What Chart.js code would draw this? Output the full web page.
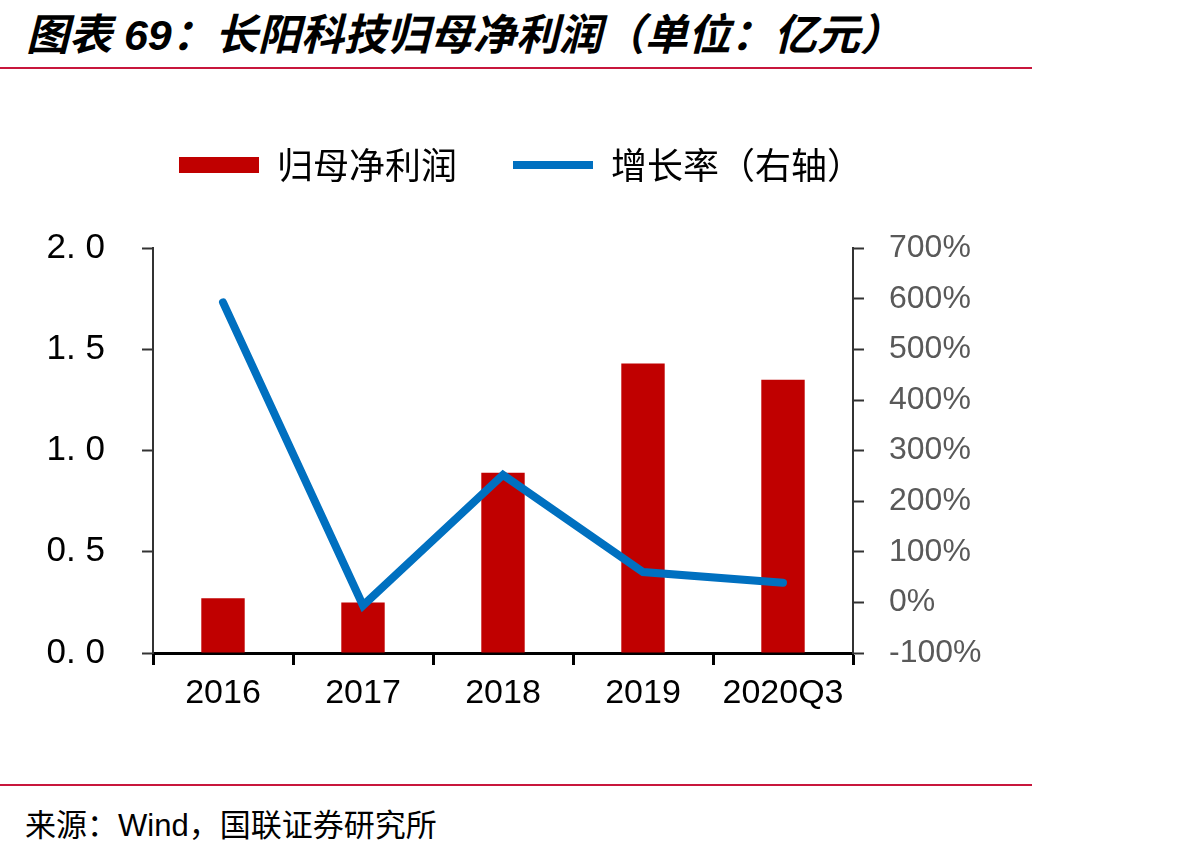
<!DOCTYPE html>
<html lang="zh-CN">
<head>
<meta charset="utf-8">
<title>长阳科技归母净利润</title>
<script src="https://cdn.jsdelivr.net/npm/chart.js@4.4.1/dist/chart.umd.min.js"></script>
<style>
  html, body { margin: 0; padding: 0; background: #fff; }
  body { width: 1186px; height: 850px; position: relative; overflow: hidden; }
  .title {
    position: absolute; left: 26px; top: 0px;
    font-family: "Liberation Sans", "Noto Sans CJK SC", sans-serif;
    font-size: 43px; font-weight: bold; font-style: italic; color: #000;
    white-space: nowrap;
  }
  .rule { position: absolute; left: 0; width: 1032px; height: 2px; background: #C8163C; }
  .source {
    position: absolute; left: 25px; top: 800px;
    font-family: "Liberation Sans", "Noto Sans CJK SC", sans-serif;
    font-size: 31px; color: #000; white-space: nowrap;
  }
  .chart-box { position: absolute; left: 0; top: 80px; width: 1042px; height: 653px; }
</style>
</head>
<body>

<div class="title">图表 69：长阳科技归母净利润（单位：亿元）</div>
<div class="rule" style="top:67px"></div>

<div class="chart-box"><canvas id="chart"></canvas></div>

<div class="rule" style="top:784px"></div>
<div class="source">来源：Wind，国联证券研究所</div>

<script>
// ===================================
// DADOS
// ===================================
const categories = ['2016', '2017', '2018', '2019', '2020Q3'];
const netProfit = [0.27, 0.25, 0.89, 1.43, 1.35];      // 亿元
const growthRate = [593, -6, 252, 60, 39];              // %
const leftTicks = [0, 0.5, 1.0, 1.5, 2.0];
const rightTicks = [-100, 0, 100, 200, 300, 400, 500, 600, 700];

const RED = '#C00000';
const BLUE = '#0070C0';

// ===================================
// CHART
// ===================================
const ctx = document.getElementById('chart').getContext('2d');
new Chart(ctx, {
  type: 'bar',
  data: {
    labels: categories,
    datasets: [
      {
        label: '归母净利润',
        data: netProfit,
        backgroundColor: RED,
        borderWidth: 0,
        yAxisID: 'y',
        order: 1,
        pointStyle: 'rect',
        categoryPercentage: 1,
        barPercentage: 0.31
      },
      {
        type: 'line',
        label: '增长率（右轴）',
        data: growthRate,
        borderColor: BLUE,
        backgroundColor: BLUE,
        borderWidth: 8,
        borderCapStyle: 'round',
        borderJoinStyle: 'miter',
        pointRadius: 0,
        pointStyle: 'line',
        tension: 0,
        yAxisID: 'y1',
        order: 0
      }
    ]
  },
  options: {
    responsive: true,
    maintainAspectRatio: false,
    animation: false,
    layout: { padding: { top: 11, left: 0, right: 0, bottom: 0 } },
    plugins: {
      legend: {
        position: 'top',
        labels: {
          usePointStyle: true,
          pointStyleWidth: 80,
          boxHeight: 16,
          padding: 56,
          color: '#000',
          font: { family: '"Noto Sans CJK SC", sans-serif', size: 36 },
          sort: (a, b) => a.datasetIndex - b.datasetIndex
        }
      },
      // espaço vazio entre a legenda e a área do gráfico
      subtitle: {
        display: true,
        text: '',
        weight: 500,
        font: { size: 1 },
        padding: { top: 0, bottom: 54 }
      },
      tooltip: { enabled: false }
    },
    scales: {
      x: {
        grid: {
          offset: true,
          drawOnChartArea: false,
          tickLength: 12,
          tickWidth: 3,
          tickColor: '#000'
        },
        border: { color: '#000', width: 3 },
        ticks: {
          color: '#000',
          padding: 8,
          maxRotation: 0,
          autoSkip: false,
          font: { family: '"Liberation Sans", sans-serif', size: 34 }
        },
        afterFit: (scale) => { scale.height = 80; }
      },
      y: {
        position: 'left',
        min: 0,
        max: 2,
        afterBuildTicks: (scale) => { scale.ticks = leftTicks.map(v => ({ value: v })); },
        grid: {
          drawOnChartArea: false,
          tickLength: 11,
          tickWidth: 2,
          tickColor: '#333'
        },
        border: { color: '#333', width: 2 },
        ticks: {
          color: '#000',
          padding: 37,
          font: { family: '"Liberation Sans", sans-serif', size: 35 },
          callback: (v) => Number(v).toFixed(1).replace('.', '. ')
        },
        afterFit: (scale) => { scale.width = 153; }
      },
      y1: {
        position: 'right',
        min: -100,
        max: 700,
        afterBuildTicks: (scale) => { scale.ticks = rightTicks.map(v => ({ value: v })); },
        grid: {
          drawOnChartArea: false,
          tickLength: 11,
          tickWidth: 2,
          tickColor: '#333'
        },
        border: { color: '#333', width: 2 },
        ticks: {
          color: '#595959',
          padding: 25,
          font: { family: '"Liberation Sans", sans-serif', size: 32 },
          callback: (v) => v + '%'
        },
        afterFit: (scale) => { scale.width = 189; }
      }
    }
  }
});
</script>
</body>
</html>
